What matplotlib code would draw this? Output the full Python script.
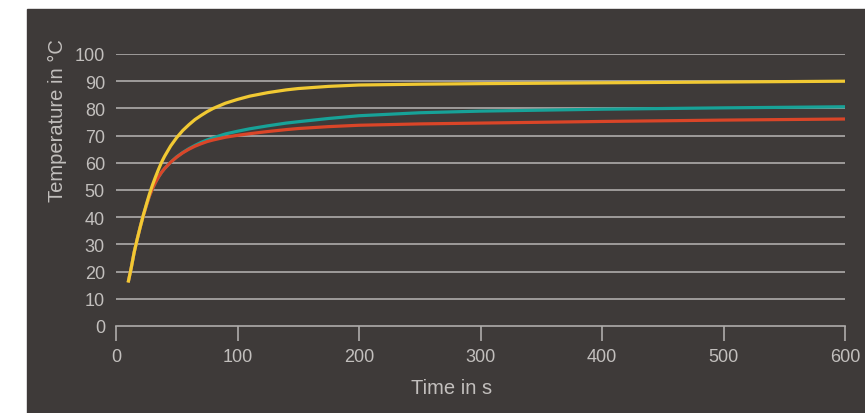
import numpy as np
import matplotlib.pyplot as plt
from matplotlib.patches import Rectangle

# --------------------------------------------------------------------------------
plt.rcParams['font.family'] = ['Liberation Sans', 'DejaVu Sans']
bg = '#3e3a39'
textcol = '#c2bfbd'
gridcol = '#aeacaa'
lw = 2.3
# --------------------------------------------------------------------------------
time_s = [10, 12.5, 15, 17.5, 20, 22.5, 25, 27.5, 30, 32.5, 35, 37.5, 40, 45, 50,
          55, 60, 65, 70, 75, 80, 90, 100, 110, 125, 140, 150, 175, 200, 250,
          300, 400, 500, 600]
temp_yellow = [16, 21.3, 27.2, 32, 36.5, 40.8, 44.7, 48.5, 51.8, 54.8, 57.6, 60.2,
               62.4, 66.2, 69.3, 71.9, 74, 75.9, 77.4, 78.8, 80, 81.9, 83.3, 84.5,
               85.8, 86.8, 87.3, 88.1, 88.6, 88.9, 89.1, 89.4, 89.7, 90]
temp_red = [16, 21.3, 27.2, 32, 36.5, 40.6, 44.3, 47.8, 50.5, 52.8, 54.8, 56.5,
            57.9, 60.2, 62.1, 63.7, 65, 66.1, 67, 67.8, 68.4, 69.4, 70.1, 70.7,
            71.5, 72.2, 72.6, 73.3, 73.8, 74.3, 74.6, 75.2, 75.7, 76.1]
temp_teal = [16, 21.3, 27.2, 32, 36.5, 40.6, 44.3, 47.8, 50.5, 52.8, 54.8, 56.5,
             57.9, 60.2, 62.2, 63.8, 65.2, 66.4, 67.5, 68.4, 69.2, 70.6, 71.6, 72.5,
             73.6, 74.6, 75.1, 76.3, 77.3, 78.4, 79.0, 79.7, 80.2, 80.6]

yticks = np.arange(0, 101, 10)
xticks = np.arange(0, 601, 100)

fig = plt.figure(figsize=(8.65, 4.14), dpi=100)
fig.patch.set_facecolor('white')
fig.patches.append(Rectangle((27/865, 0), 1 - 27/865, (414 - 10)/414,
                             transform=fig.transFigure, color=bg, zorder=-10))

ax = fig.add_axes([116/865, 1 - 327/414, (845 - 116)/865, (327 - 55)/414])
ax.set_facecolor('none')
ax.set_xlim(0, 600)
ax.set_ylim(0, 100)

for yv in yticks[1:]:
    ax.axhline(yv, color=gridcol, lw=1.2, zorder=1)

ax.plot(time_s, temp_teal, color='#17a298', lw=lw, zorder=3, solid_capstyle='butt')
ax.plot(time_s, temp_red, color='#da4528', lw=lw, zorder=4, solid_capstyle='butt')
ax.plot(time_s, temp_yellow, color='#f1c933', lw=lw, zorder=5, solid_capstyle='butt')

for s in ['top', 'right', 'left']:
    ax.spines[s].set_visible(False)
ax.spines['bottom'].set_color(gridcol)
ax.spines['bottom'].set_linewidth(1.2)

ax.set_xticks(xticks)
ax.set_yticks(yticks)
ax.tick_params(axis='x', direction='out', length=11, width=1.2, color=gridcol,
               labelcolor=textcol, labelsize=13, pad=5)
ax.tick_params(axis='y', length=0, labelcolor=textcol, labelsize=13, pad=8)

fig.text(57/865, 1 - 121/414, 'Temperature in °C', rotation=90, color=textcol,
         fontsize=14.5, ha='center', va='center')
fig.text(452/865, 1 - 389/414, 'Time in s', color=textcol, fontsize=14.5,
         ha='center', va='center')

plt.savefig('out.png', dpi=100, facecolor=fig.get_facecolor())
